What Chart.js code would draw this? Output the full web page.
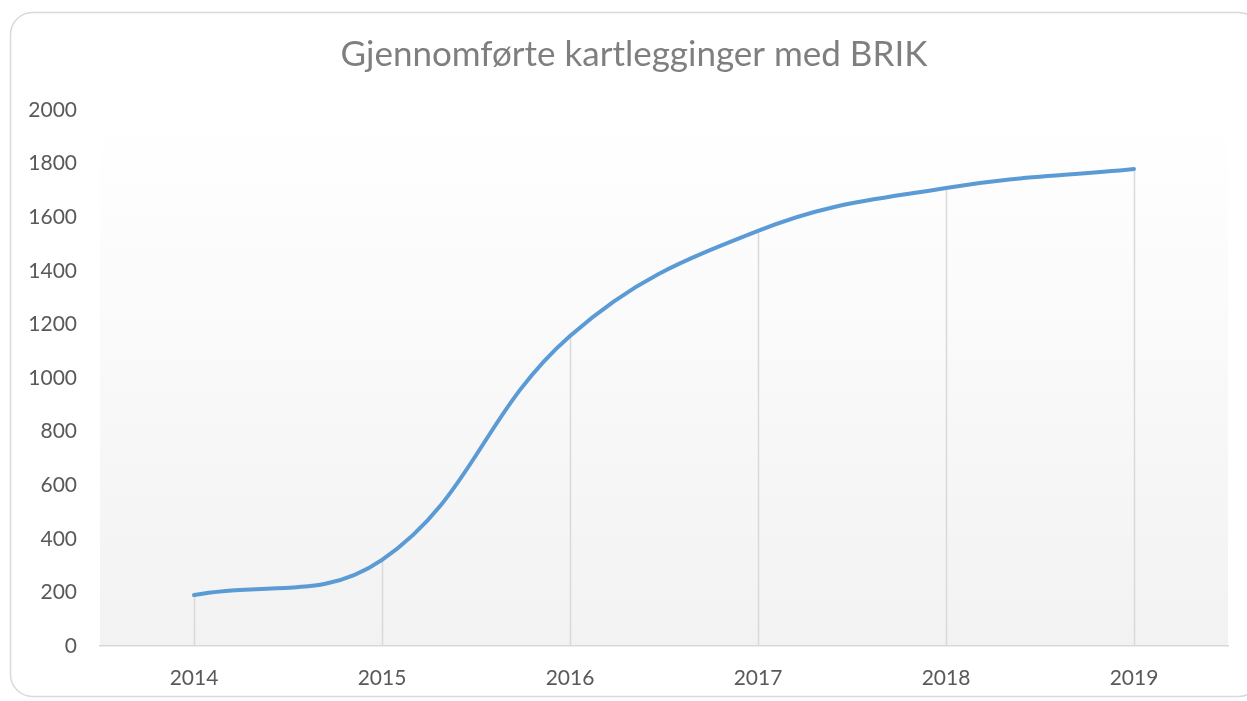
<!DOCTYPE html>
<html>
<head>
<meta charset="utf-8">
<script src="https://cdn.jsdelivr.net/npm/chart.js@4/dist/chart.umd.min.js"></script>
<style>
  html, body { margin: 0; padding: 0; background: #fff; }
  #wrap { width: 1247px; height: 701px; }
</style>
</head>
<body>
<div id="wrap"><canvas id="brik" width="1247" height="701"></canvas></div>
<script>
// Data
const years = ["2014", "2015", "2016", "2017", "2018", "2019"];
const kartlegginger = [190, 321, 1157, 1549, 1709, 1780];
const yTicks = [0, 200, 400, 600, 800, 1000, 1200, 1400, 1600, 1800, 2000];
const tittel = 'Gjennomførte kartlegginger med BRIK';

const fontName = "Lato, 'Open Sans', sans-serif";

// frame + plot background + title
const bakgrunn = {
    id: 'bakgrunn',
    beforeDraw(chart) {
        const ctx = chart.ctx;
        const a = chart.chartArea;
        ctx.save();
        ctx.fillStyle = '#fff';
        ctx.fillRect(0, 0, chart.width, chart.height);
        ctx.strokeStyle = '#d9d9d9';
        ctx.lineWidth = 1.5;
        ctx.beginPath();
        ctx.roundRect(10.5, 12.5, 1250, 684, 22);
        ctx.stroke();
        const g = ctx.createLinearGradient(0, a.top, 0, a.bottom);
        g.addColorStop(0, '#ffffff');
        g.addColorStop(0.1, '#fefefe');
        g.addColorStop(1, '#f2f2f2');
        ctx.fillStyle = g;
        ctx.fillRect(a.left, a.top, a.right - a.left, a.bottom - a.top);

        ctx.fillStyle = '#7f7f7f';
        ctx.font = '35px ' + fontName;
        ctx.textAlign = 'center';
        ctx.textBaseline = 'middle';
        ctx.fillText(tittel, 634, 55);
        ctx.restore();
    }
};

// drop lines from each point to the axis
const nedlinjer = {
    id: 'nedlinjer',
    beforeDatasetsDraw(chart) {
        const ctx = chart.ctx;
        const x = chart.scales.x, y = chart.scales.y;
        ctx.save();
        ctx.strokeStyle = '#d9d9d9';
        ctx.lineWidth = 1.5;
        kartlegginger.forEach((v, i) => {
            const px = Math.round(x.getPixelForValue(i)) + 0.5;
            ctx.beginPath();
            ctx.moveTo(px, y.getPixelForValue(v));
            ctx.lineTo(px, y.getPixelForValue(0));
            ctx.stroke();
        });
        ctx.restore();
    }
};

new Chart(document.getElementById('brik'), {
    type: 'line',
    data: {
        labels: years,
        datasets: [{
            label: 'Gjennomførte kartlegginger',
            data: kartlegginger,
            borderColor: '#5b9bd5',
            borderWidth: 4,
            tension: 0.4,
            pointRadius: 0,
            fill: false,
            borderCapStyle: 'round'
        }]
    },
    options: {
        responsive: false,
        animation: false,
        events: [],
        layout: { padding: { left: 0, right: 19, top: 110, bottom: 0 } },
        plugins: {
            legend: { display: false },
            tooltip: { enabled: false },
            title: { display: false }
        },
        scales: {
            x: {
                offset: true,
                grid: { display: false, drawTicks: false },
                border: { display: true, color: '#d9d9d9', width: 1.5 },
                ticks: {
                    color: '#595959',
                    font: { family: fontName, size: 21 },
                    padding: 20,
                    maxRotation: 0
                },
                afterFit(s) { s.height = 55; }
            },
            y: {
                min: 0,
                max: 2000,
                afterBuildTicks(s) { s.ticks = yTicks.map(v => ({ value: v })); },
                grid: { display: false, drawTicks: false },
                border: { display: false },
                ticks: {
                    color: '#595959',
                    font: { family: fontName, size: 21 },
                    padding: 23,
                    callback: v => String(v)
                },
                afterFit(s) { s.width = 100; }
            }
        }
    },
    plugins: [bakgrunn, nedlinjer]
});
</script>
</body>
</html>
